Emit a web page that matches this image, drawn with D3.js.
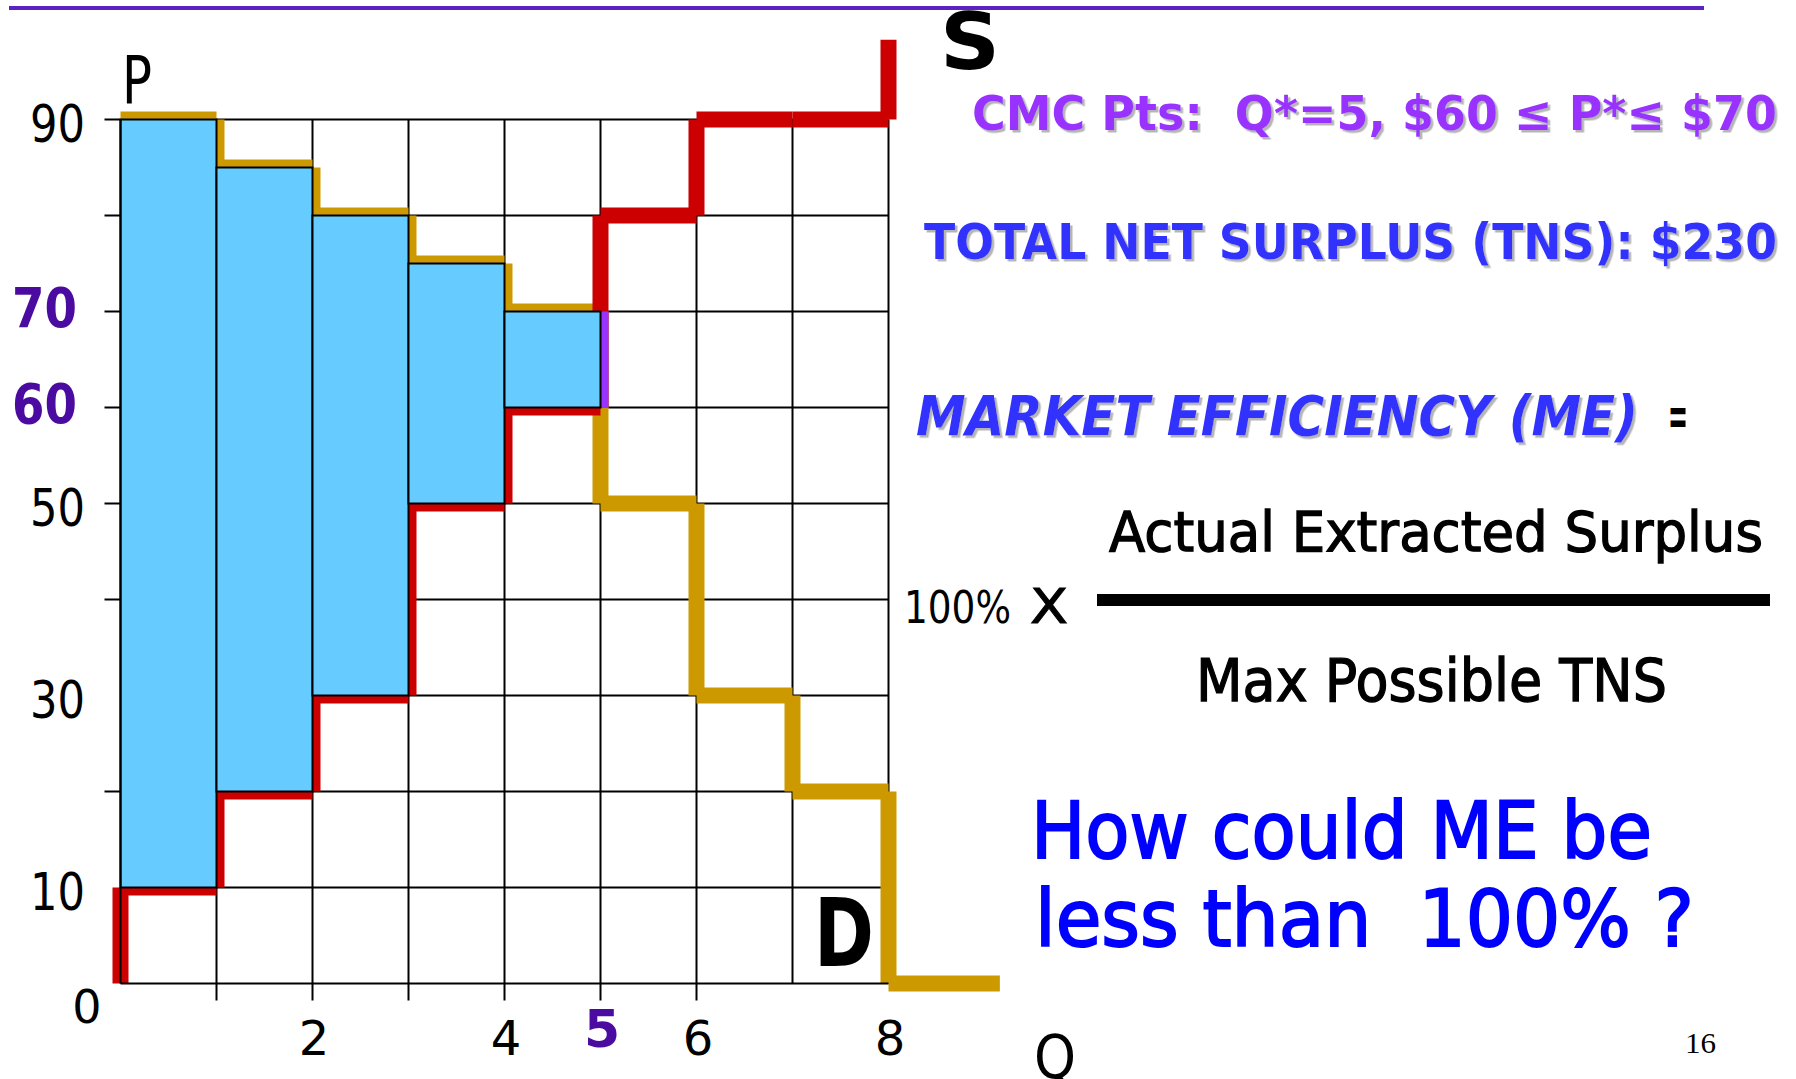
<!DOCTYPE html>
<html>
<head>
<meta charset="utf-8">
<script src="https://cdn.jsdelivr.net/npm/d3@7"></script>
<style>
  body { margin: 0; background: #fff; }
  svg { display: block; font-family: "Comic Sans MS", "DejaVu Sans", sans-serif; }
  text { white-space: pre; }
</style>
</head>
<body>
<div id="chart-area"></div>
<script>
// step heights for each unit of Q (buyer values / seller costs)
const demandSteps = [90, 85, 80, 75, 70, 50, 30, 20, 0];
const demandEnd = 9.16; // last demand step runs past the grid
const supplySteps = [10, 20, 30, 50, 60, 80, 90, 90];
const supplyTop = 98.3;
const tradedUnits = 5;
const cmcLow = 60;
const cmcHigh = 70;

// grid + tick labels
const gridP = [10, 20, 30, 40, 50, 60, 70, 80, 90];
const gridQ = [1, 2, 3, 4, 5, 6, 7, 8];
const leftTickP = [20, 40, 50, 60, 70, 80, 90];
const bottomTickQ = [1, 2, 3, 4, 5, 6];
const pLabels = [10, 30, 50, 60, 70, 90];
const qLabels = [2, 4, 5, 6, 8];
const highlightP = [60, 70];
const highlightQ = [5];

class SurplusChart {
  constructor(_parentElement) {
    this.parentElement = _parentElement;
    this.initVis();
  }

  initVis() {
    const vis = this;
    vis.WIDTH = 1796;
    vis.HEIGHT = 1079;

    vis.svg = d3.select(vis.parentElement)
      .append("svg")
      .attr("width", vis.WIDTH)
      .attr("height", vis.HEIGHT);

    // grey drop shadow used by the coloured headings
    vis.svg.append("defs")
      .append("filter")
      .attr("id", "shadow")
      .attr("x", "-5%").attr("y", "-20%")
      .attr("width", "110%").attr("height", "150%")
      .append("feDropShadow")
      .attr("dx", 2.5).attr("dy", 2.5)
      .attr("stdDeviation", 0.6)
      .attr("flood-color", "#b5b5b5")
      .attr("flood-opacity", 1);

    vis.svg.append("rect")
      .attr("width", vis.WIDTH)
      .attr("height", vis.HEIGHT)
      .attr("fill", "#fff");

    // slide rule at the top
    vis.svg.append("line")
      .attr("x1", 9).attr("x2", 1704)
      .attr("y1", 8).attr("y2", 8)
      .attr("stroke", "#5b23bf")
      .attr("stroke-width", 4);

    vis.x = d3.scaleLinear().domain([0, 8]).range([120.5, 888.5]);
    vis.y = d3.scaleLinear().domain([0, 90]).range([983.5, 119.5]);

    vis.g = vis.svg.append("g");

    vis.drawGrid();
    vis.drawSteps();
    vis.drawBars();
    vis.drawAxes();
    vis.drawLabels();
    vis.drawNotes();
  }

  drawGrid() {
    const vis = this;
    vis.g.selectAll(".hgrid")
      .data(gridP)
      .enter()
      .append("line")
      .attr("class", "hgrid")
      .attr("x1", (d) => (leftTickP.includes(d) ? vis.x(0) - 16 : vis.x(0)))
      .attr("x2", vis.x(8))
      .attr("y1", (d) => vis.y(d))
      .attr("y2", (d) => vis.y(d))
      .attr("stroke", "#000")
      .attr("stroke-width", 2);

    vis.g.selectAll(".vgrid")
      .data(gridQ)
      .enter()
      .append("line")
      .attr("class", "vgrid")
      .attr("x1", (d) => vis.x(d))
      .attr("x2", (d) => vis.x(d))
      .attr("y1", vis.y(90))
      .attr("y2", (d) => (bottomTickQ.includes(d) ? vis.y(0) + 17 : vis.y(0)))
      .attr("stroke", "#000")
      .attr("stroke-width", 2);
  }

  drawSteps() {
    const vis = this;
    const last = demandSteps.length - 1;
    const goldH = demandSteps.map((p, i) => ({ q0: i, q1: i === last ? demandEnd : i + 1, p0: p, p1: p }));
    const goldV = demandSteps.slice(1).map((p, i) => ({ q0: i + 1, q1: i + 1, p0: demandSteps[i], p1: p }));

    const redH = supplySteps.map((p, i) => ({ q0: i, q1: i + 1, p0: p, p1: p }));
    const redV = [{ q0: 0, q1: 0, p0: 0, p1: supplySteps[0] }]
      .concat(supplySteps.slice(1).map((p, i) => ({ q0: i + 1, q1: i + 1, p0: supplySteps[i], p1: p })))
      .concat([{ q0: supplySteps.length, q1: supplySteps.length, p0: supplySteps[supplySteps.length - 1], p1: supplyTop }]);

    const cmc = [{ q0: tradedUnits, q1: tradedUnits, p0: cmcLow, p1: cmcHigh }];

    const addSegs = (data, color) => {
      vis.g.append("g")
        .selectAll("line")
        .data(data)
        .enter()
        .append("line")
        .attr("x1", (d) => vis.x(d.q0))
        .attr("x2", (d) => vis.x(d.q1))
        .attr("y1", (d) => vis.y(d.p0))
        .attr("y2", (d) => vis.y(d.p1))
        .attr("stroke", color)
        .attr("stroke-width", 16)
        .attr("stroke-linecap", "butt");
    };

    addSegs(goldH.concat(goldV), "#cc9900");
    addSegs(redH.concat(redV), "#cc0000");
    addSegs(cmc, "#9933ff");
  }

  drawBars() {
    const vis = this;
    const bars = d3.range(tradedUnits).map((i) => ({ q: i, lo: supplySteps[i], hi: demandSteps[i] }));
    vis.g.selectAll(".bar")
      .data(bars)
      .enter()
      .append("rect")
      .attr("class", "bar")
      .attr("x", (d) => vis.x(d.q))
      .attr("width", (d) => vis.x(d.q + 1) - vis.x(d.q))
      .attr("y", (d) => vis.y(d.hi))
      .attr("height", (d) => vis.y(d.lo) - vis.y(d.hi))
      .attr("fill", "#66ccff")
      .attr("stroke", "#000")
      .attr("stroke-width", 2);
  }

  drawAxes() {
    const vis = this;
    vis.g.append("line")
      .attr("x1", vis.x(0)).attr("x2", vis.x(0))
      .attr("y1", vis.y(0)).attr("y2", vis.y(90))
      .attr("stroke", "#000").attr("stroke-width", 2);
    vis.g.append("line")
      .attr("x1", vis.x(0)).attr("x2", vis.x(8))
      .attr("y1", vis.y(0)).attr("y2", vis.y(0))
      .attr("stroke", "#000").attr("stroke-width", 2);
  }

  drawLabels() {
    const vis = this;

    // price labels
    vis.g.selectAll(".plabel")
      .data(pLabels)
      .enter()
      .append("text")
      .attr("class", "plabel")
      .attr("x", (d) => (highlightP.includes(d) ? 12 : 30))
      .attr("y", (d) => vis.y(d) + (highlightP.includes(d) ? 15 : 22))
      .attr("textLength", (d) => (highlightP.includes(d) ? 65 : 55))
      .attr("lengthAdjust", "spacingAndGlyphs")
      .attr("font-size", (d) => (highlightP.includes(d) ? 56 : 52))
      .attr("font-weight", (d) => (highlightP.includes(d) ? "bold" : "normal"))
      .attr("fill", (d) => (highlightP.includes(d) ? "#4b0aa0" : "#000"))
      .text((d) => d);

    vis.g.append("text")
      .attr("x", 87).attr("y", 1023)
      .attr("text-anchor", "middle")
      .attr("font-size", 46)
      .text("0");

    // quantity labels
    vis.g.selectAll(".qlabel")
      .data(qLabels)
      .enter()
      .append("text")
      .attr("class", "qlabel")
      .attr("x", (d) => vis.x(d) + 1.5)
      .attr("y", (d) => (highlightQ.includes(d) ? 1047 : 1055))
      .attr("text-anchor", "middle")
      .attr("font-size", (d) => (highlightQ.includes(d) ? 52 : 48))
      .attr("font-weight", (d) => (highlightQ.includes(d) ? "bold" : "normal"))
      .attr("fill", (d) => (highlightQ.includes(d) ? "#4b0aa0" : "#000"))
      .text((d) => d);

    vis.g.append("text").attr("x", 122).attr("y", 103)
      .attr("font-size", 66).attr("textLength", 30).attr("lengthAdjust", "spacingAndGlyphs")
      .text("P");
    vis.g.append("text").attr("x", 1034).attr("y", 1078)
      .attr("font-size", 60).attr("textLength", 42).attr("lengthAdjust", "spacingAndGlyphs")
      .text("Q");
    vis.g.append("text").attr("x", 940).attr("y", 69)
      .attr("font-size", 78).attr("font-weight", "bold")
      .attr("textLength", 60).attr("lengthAdjust", "spacingAndGlyphs")
      .text("S");
    vis.g.append("text").attr("x", 814).attr("y", 966)
      .attr("font-size", 94).attr("font-weight", "bold")
      .attr("textLength", 60).attr("lengthAdjust", "spacingAndGlyphs")
      .text("D");
  }

  drawNotes() {
    const vis = this;
    const note = (str, x, y, opts) =>
      vis.svg.append("text")
        .attr("x", x)
        .attr("y", y)
        .attr("font-size", opts.size)
        .attr("font-weight", opts.weight || "normal")
        .attr("font-style", opts.italic ? "italic" : "normal")
        .attr("font-family", opts.family || null)
        .attr("textLength", opts.len || null)
        .attr("lengthAdjust", "spacingAndGlyphs")
        .attr("fill", opts.fill || "#000")
        .attr("stroke", opts.heavy ? opts.fill || "#000" : null)
        .attr("stroke-width", opts.heavy || null)
        .attr("filter", opts.shadow ? "url(#shadow)" : null)
        .text(str);

    note("CMC Pts:  Q*=5, $60 \u2264 P*\u2264 $70", 972, 130,
      { size: 48, weight: "bold", fill: "#9933ff", len: 805, shadow: true });
    note("TOTAL NET SURPLUS (TNS): $230", 924, 259,
      { size: 49, weight: "bold", fill: "#3333ff", len: 853, shadow: true });
    note("MARKET EFFICIENCY (ME)", 916, 435,
      { size: 55, weight: "bold", italic: true, fill: "#3333ff", len: 722, shadow: true });
    note("=", 1668, 435, { size: 55, weight: "bold", len: 20 });

    note("Actual Extracted Surplus", 1109, 551, { size: 56, len: 654, heavy: 1.3 });
    note("100%", 904, 623, { size: 45, len: 107 });
    note("X", 1030, 623, { size: 48, len: 38, heavy: 1 });
    note("Max Possible TNS", 1196, 701, { size: 58, len: 471, heavy: 1.3 });

    vis.svg.append("rect")
      .attr("x", 1097).attr("y", 594)
      .attr("width", 673).attr("height", 12)
      .attr("fill", "#000");

    note("How could ME be", 1031, 858, { size: 79, fill: "#0000ff", len: 621, heavy: 2 });
    note("less than  100% ?", 1035, 946, { size: 79, fill: "#0000ff", len: 659, heavy: 2 });

    note("16", 1685, 1053, { size: 30, family: "'Liberation Serif', serif", len: 31 });
  }
}

new SurplusChart("#chart-area");
</script>
</body>
</html>
